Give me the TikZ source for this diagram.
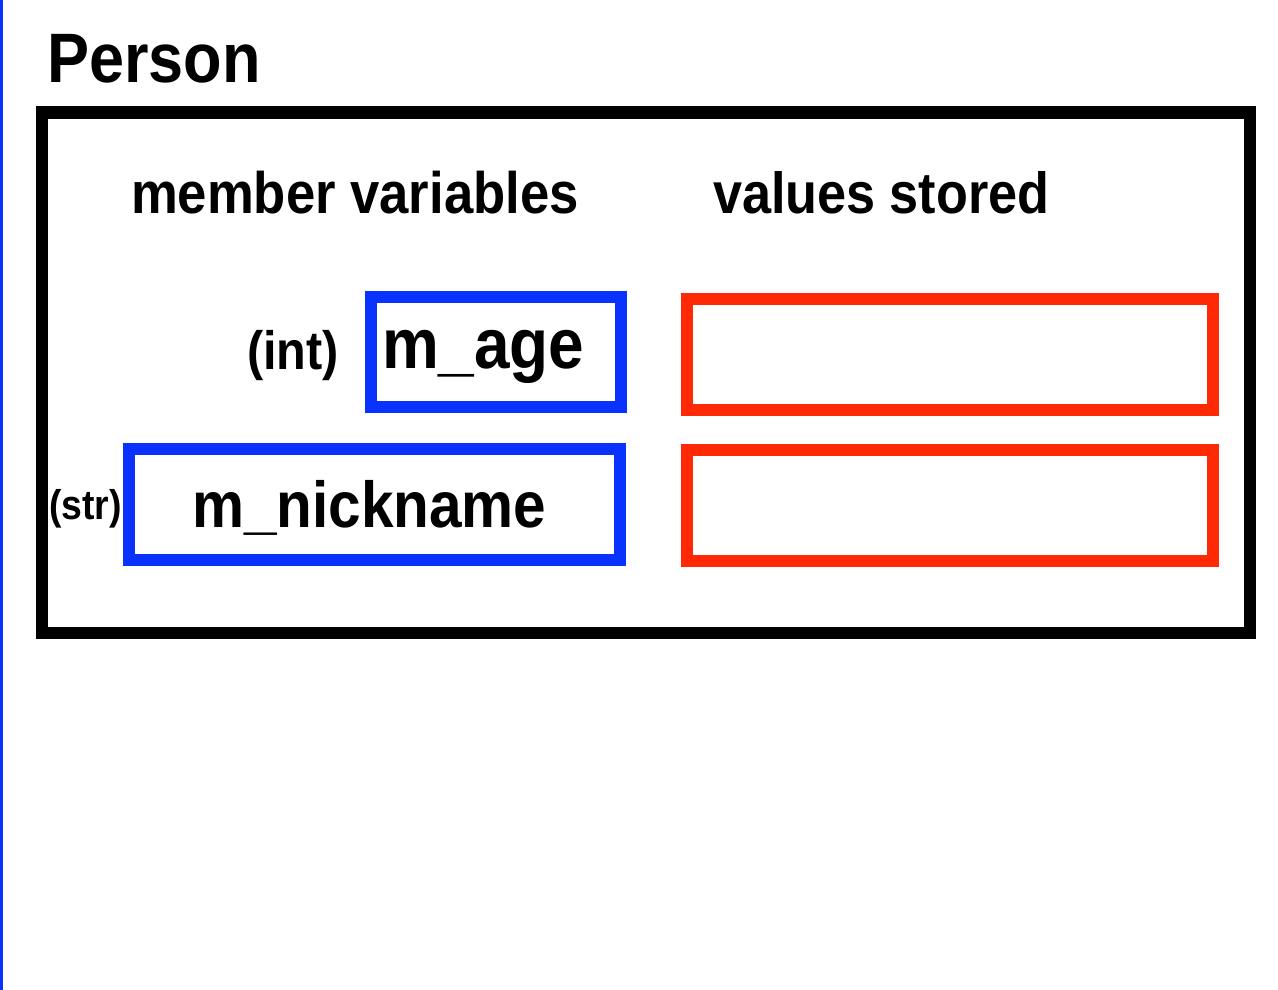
\documentclass[tikz,border=0pt]{standalone}
\usepackage{fontspec}
\setmainfont{Liberation Sans}[FakeStretch=0.9]
\definecolor{boxblue}{RGB}{10,50,255}
\definecolor{boxred}{RGB}{255,42,5}
\tikzset{
  frame/.style={draw=black, line width=12pt, inner sep=0pt, outer sep=0pt, minimum width=1208pt, minimum height=520pt},
  varbox/.style={draw=boxblue, line width=12pt, inner sep=0pt, outer sep=0pt},
  valbox/.style={draw=boxred, line width=12pt, inner sep=0pt, outer sep=0pt, minimum width=525.5pt, minimum height=111pt},
  lbl/.style={anchor=base west, inner sep=0pt, outer sep=0pt, font=\bfseries},
}
\newcommand{\fs}[1]{\fontsize{#1}{#1}\selectfont}
\begin{document}
\begin{tikzpicture}[x=1pt,y=-1pt]
\useasboundingbox (0,0) rectangle (1278,990);
\fill[boxblue] (0,0) rectangle (2.5,990);
\node[lbl] (title) at (47,82) {\fs{70}Person};
\node[frame] (person) at (646,372.5) {};
\node[lbl] (hvars) at (131,213) {\fs{58.5}member variables};
\node[lbl] (hvals) at (713,213) {\fs{58}values stored};
\node[varbox, minimum width=250pt, minimum height=110pt] (agebox) at (496,352) {};
\node[varbox, minimum width=491pt, minimum height=111pt] (nickbox) at (374.5,504.5) {};
\node[valbox] (ageval) at (949.75,354.5) {};
\node[valbox] (nickval) at (949.75,505.5) {};
\node[lbl] (inttype) at (247,369) {\fs{54}(int)};
\node[lbl] (agetext) at (382,368) {\fs{71}m\_age};
\node[lbl] (strtype) at (49,519) {\fs{41.5}(str)};
\node[lbl] (nicktext) at (192,527) {\fs{65}m\_nickname};
\end{tikzpicture}
\end{document}
